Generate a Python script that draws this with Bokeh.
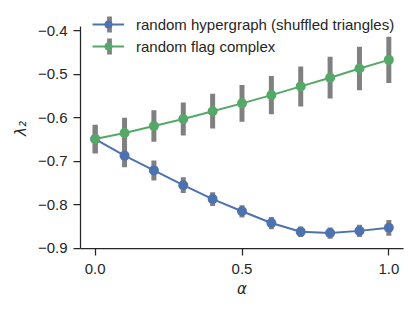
from bokeh.plotting import figure
from bokeh.models import (ColumnDataSource, Range1d, FixedTicker, Legend, LegendItem)
from bokeh.embed import file_html
from bokeh.resources import INLINE

# ---- data ----
alpha = [0.0, 0.1, 0.2, 0.3, 0.4, 0.5, 0.6, 0.7, 0.8, 0.9, 1.0]

hyper_mean = [-0.649, -0.687, -0.721, -0.755, -0.787, -0.815, -0.842, -0.862, -0.865, -0.860, -0.853]
hyper_err = [0.032, 0.027, 0.023, 0.018, 0.016, 0.014, 0.014, 0.012, 0.013, 0.014, 0.018]

flag_mean = [-0.649, -0.635, -0.619, -0.603, -0.585, -0.567, -0.548, -0.528, -0.508, -0.487, -0.467]
flag_err = [0.033, 0.035, 0.036, 0.038, 0.040, 0.042, 0.044, 0.046, 0.048, 0.050, 0.053]

series_names = ["random hypergraph (shuffled triangles)", "random flag complex"]

y_ticks = [-0.9, -0.8, -0.7, -0.6, -0.5, -0.4]
y_tick_labels = ["\u22120.9", "\u22120.8", "\u22120.7", "\u22120.6", "\u22120.5", "\u22120.4"]
x_ticks = [0.0, 0.5, 1.0]
x_tick_labels = ["0.0", "0.5", "1.0"]

# ---- styles ----
BLUE = "#4C72B0"
GREEN = "#55A868"
GRAY = "#808080"
DARK = "#262626"
FONT = "Liberation Sans"

Y_LO, Y_AXIS_TOP, Y_HI = -0.9005, -0.3915, -0.349

p = figure(width=407, height=304, output_backend="svg", toolbar_location=None,
           x_range=Range1d(-0.05, 1.05), y_range=Range1d(Y_LO, Y_HI),
           min_border_left=80, min_border_right=4, min_border_top=8, min_border_bottom=56)
p.outline_line_color = None
p.xgrid.visible = False
p.ygrid.visible = False
p.background_fill_color = "white"
p.border_fill_color = "white"


def src(mean, err):
    return ColumnDataSource(dict(
        x=alpha, y=mean,
        lo=[m - e for m, e in zip(mean, err)],
        hi=[m + e for m, e in zip(mean, err)]))


hs = src(hyper_mean, hyper_err)
fs = src(flag_mean, flag_err)

hb = p.vbar(x="x", bottom="lo", top="hi", width=0.017, source=hs,
            fill_color=GRAY, line_color=None)
hl = p.line("x", "y", source=hs, line_color=BLUE, line_width=2)
hm = p.scatter("x", "y", source=hs, marker="circle", size=10,
               fill_color=BLUE, line_color=None)

fb = p.vbar(x="x", bottom="lo", top="hi", width=0.017, source=fs,
            fill_color=GRAY, line_color=None)
fl = p.line("x", "y", source=fs, line_color=GREEN, line_width=2)
fm = p.scatter("x", "y", source=fs, marker="circle", size=10,
               fill_color=GREEN, line_color=None)

# axes
for ax in (p.xaxis[0], p.yaxis[0]):
    ax.axis_line_color = DARK
    ax.axis_line_width = 1.25
    ax.major_tick_line_color = DARK
    ax.major_tick_line_width = 1.25
    ax.major_tick_out = 7
    ax.major_tick_in = 0
    ax.minor_tick_out = 0
    ax.minor_tick_in = 0
    ax.major_label_text_font = FONT
    ax.major_label_text_font_size = "15px"
    ax.major_label_text_color = DARK
    ax.axis_label_text_font = "DejaVu Sans"
    ax.axis_label_text_font_size = "15px"
    ax.axis_label_text_font_style = "italic"
    ax.axis_label_text_color = DARK

p.yaxis[0].ticker = FixedTicker(ticks=y_ticks)
p.yaxis[0].major_label_overrides = dict(zip(y_ticks, y_tick_labels))
p.yaxis[0].major_label_standoff = 6
p.yaxis[0].axis_label = "\u03bb\u2082"
p.yaxis[0].axis_label_standoff = 5
p.yaxis[0].bounds = (Y_LO, Y_AXIS_TOP)

p.xaxis[0].ticker = FixedTicker(ticks=x_ticks)
p.xaxis[0].major_label_overrides = dict(zip(x_ticks, x_tick_labels))
p.xaxis[0].major_label_standoff = 8
p.xaxis[0].axis_label = "\u03b1"
p.xaxis[0].axis_label_standoff = 3

# legend: error-bar glyphs (drawn first, underneath)
leg_bars = Legend(items=[LegendItem(label=" ", renderers=[hb]),
                         LegendItem(label=" ", renderers=[fb])],
                  location=(26, 192), glyph_width=6, glyph_height=20,
                  label_height=20, label_width=0, label_standoff=0,
                  label_text_font_size="1px", spacing=2, padding=0, margin=0,
                  background_fill_alpha=0, border_line_alpha=0)
p.add_layout(leg_bars, "center")

leg = Legend(items=[LegendItem(label=series_names[0], renderers=[hl, hm]),
                    LegendItem(label=series_names[1], renderers=[fl, fm])],
             location=(12, 192), glyph_width=32, glyph_height=20,
             label_height=20, label_standoff=12, spacing=2, padding=0, margin=0,
             label_text_font=FONT, label_text_font_size="15px",
             label_text_color=DARK,
             background_fill_alpha=0, border_line_alpha=0)
p.add_layout(leg, "center")

open("out.html", "w").write(file_html(p, INLINE))
